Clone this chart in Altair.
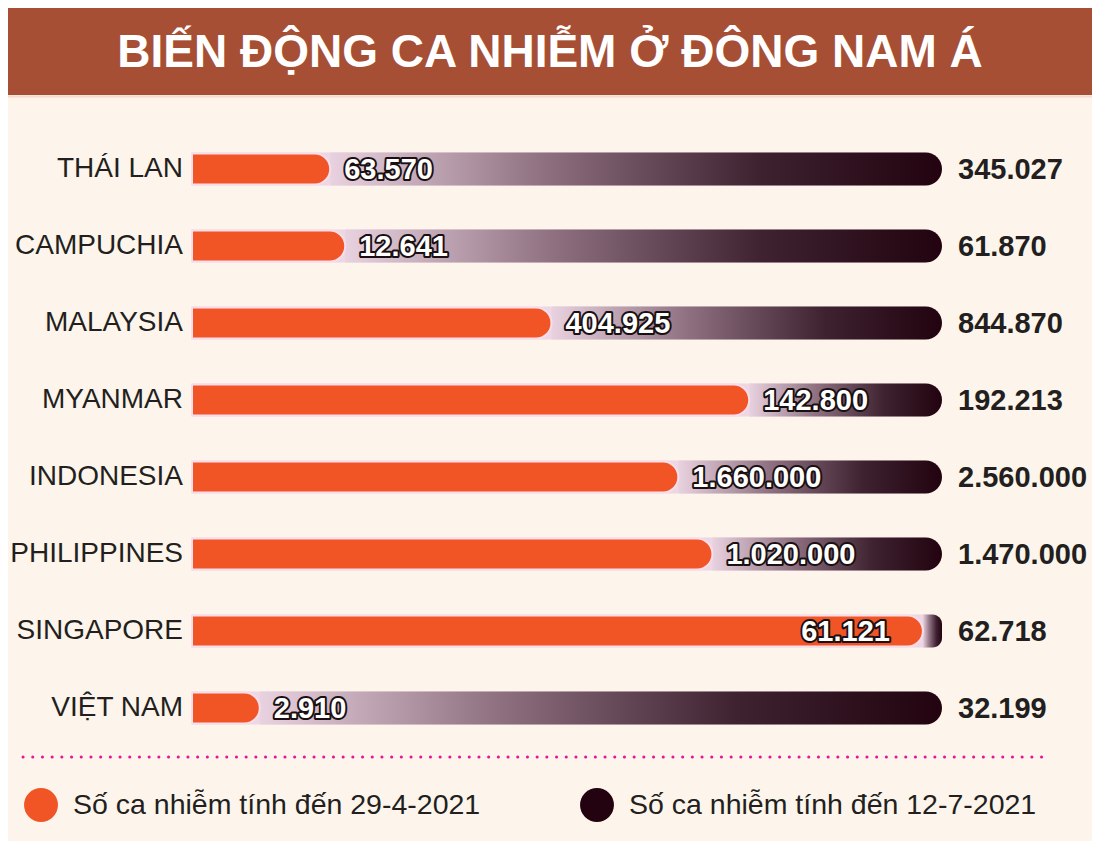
import altair as alt
import pandas as pd

countries = ["THÁI LAN", "CAMPUCHIA", "MALAYSIA", "MYANMAR", "INDONESIA",
             "PHILIPPINES", "SINGAPORE", "VIỆT NAM"]
cases_apr = [63570, 12641, 404925, 142800, 1660000, 1020000, 61121, 2910]
cases_jul = [345027, 61870, 844870, 192213, 2560000, 1470000, 62718, 32199]
series_names = ["Số ca nhiễm tính đến 29-4-2021", "Số ca nhiễm tính đến 12-7-2021"]
title_text = "BIẾN ĐỘNG CA NHIỄM Ở ĐÔNG NAM Á"


def vn(v):
    return f"{v:,}".replace(",", ".")


df = pd.DataFrame({
    "country": countries,
    "apr": cases_apr,
    "jul": cases_jul,
})
df["ratio"] = df["apr"] / df["jul"]
df["zero"] = 0.0
df["one"] = 1.0
df["apr_lbl"] = df["apr"].map(vn)
df["jul_lbl"] = df["jul"].map(vn)
df["series"] = series_names[0]

ORANGE = "#F15425"
DARK = "#22030F"
BG = "#FDF5EB"
BROWN = "#A64F35"
PINK = "#EED6E4"
NUM_FONT = "Liberation Sans, Arial, sans-serif"
TXT_FONT = "Liberation Sans, Arial, sans-serif"
NUM_SIZE = 29

xs = alt.Scale(domain=[0, 1], range=[184, 934])
ys = alt.Scale(domain=countries, range=[122.5, 738.5], paddingInner=0, paddingOuter=0)

base = alt.Chart(df)
Y = alt.Y("country:N", sort=countries, scale=ys, axis=None)

bg_bar = base.mark_bar(color=PINK, size=33, cornerRadiusTopRight=16.5,
                       cornerRadiusBottomRight=16.5).encode(
    x=alt.X("zero:Q", scale=xs, axis=None), x2="one:Q", y=Y)

grad_bar = base.mark_bar(
    size=33, cornerRadiusTopRight=16.5, cornerRadiusBottomRight=16.5,
    color=alt.Gradient(gradient="linear", x1=0, x2=1, y1=0, y2=0,
                       stops=[alt.GradientStop(offset=0, color="#E9D2E0"),
                              alt.GradientStop(offset=0.35, color="#8E7080"),
                              alt.GradientStop(offset=0.7, color="#3E2230"),
                              alt.GradientStop(offset=1, color=DARK)])).encode(
    x=alt.X("ratio:Q", scale=xs, axis=None), x2="one:Q", y=Y)

orange_bar = base.mark_bar(size=31, cornerRadiusTopRight=15.5, cornerRadiusBottomRight=15.5,
                           stroke="#F9DDEB", strokeWidth=2).encode(
    x=alt.X("zero:Q", scale=xs, axis=None), x2="ratio:Q", y=Y,
    color=alt.Color("series:N",
                    scale=alt.Scale(domain=series_names, range=[ORANGE, DARK]),
                    legend=alt.Legend(title=None, orient="none", legendX=16, legendY=780,
                                      direction="horizontal", symbolType="circle",
                                      symbolSize=1150, symbolStrokeWidth=0,
                                      labelFont=TXT_FONT, labelFontSize=28.5,
                                      labelColor="#231F20", labelLimit=700,
                                      labelOffset=15, columnPadding=99, padding=0)))

outside = alt.datum.ratio <= 0.9
inside = alt.datum.ratio > 0.9


def num_text(filt, align, dx, stroke):
    kw = dict(align=align, baseline="middle", dx=dx, dy=1, font=NUM_FONT,
              fontWeight="bold", fontSize=NUM_SIZE, fill="white")
    if stroke:
        kw.update(stroke="#1A1012", strokeWidth=4, strokeJoin="round")
    return base.transform_filter(filt).mark_text(**kw).encode(
        x=alt.X("ratio:Q", scale=xs, axis=None), y=Y, text="apr_lbl:N")


lbl_layers = [num_text(outside, "left", 14, True), num_text(outside, "left", 14, False),
              num_text(inside, "right", -33, True), num_text(inside, "right", -33, False)]

right_lbl = base.mark_text(align="left", baseline="middle", dx=16, dy=1, font=NUM_FONT,
                           fontWeight="bold", fontSize=NUM_SIZE, color="#231F20").encode(
    x=alt.X("one:Q", scale=xs, axis=None), y=Y, text="jul_lbl:N")

country_lbl = base.mark_text(align="right", baseline="middle", font=TXT_FONT,
                             fontSize=28, color="#231F20").encode(
    x=alt.value(175), y=Y, text="country:N")

dummy = alt.Chart(pd.DataFrame({"t": [title_text]}))
title_bar = dummy.mark_rect(color=BROWN).encode(
    x=alt.value(-10), x2=alt.value(1100), y=alt.value(-10), y2=alt.value(87))
title_edge = dummy.mark_rule(color="#F3DCCD", strokeWidth=2).encode(
    x=alt.value(-10), x2=alt.value(1100), y=alt.value(88.5))
title = dummy.mark_text(align="center", baseline="middle", font=NUM_FONT, fontWeight="bold",
                        fontSize=46, color="white").encode(
    x=alt.value(542), y=alt.value(45), text="t:N")
dots = dummy.mark_rule(color="#E5169A", strokeWidth=3, strokeDash=[0.1, 9.6],
                       strokeCap="round").encode(
    x=alt.value(15), x2=alt.value(1040), y=alt.value(749))

chart = alt.layer(title_bar, title_edge, title, bg_bar, grad_bar, orange_bar, *lbl_layers,
                  right_lbl, country_lbl, dots).properties(
    width=1084, height=833, background=BG, padding=0,
    autosize=alt.AutoSizeParams(type="none")
).configure_view(stroke=None)

chart.save("out.html", embed_options={"renderer": "svg", "actions": False})
